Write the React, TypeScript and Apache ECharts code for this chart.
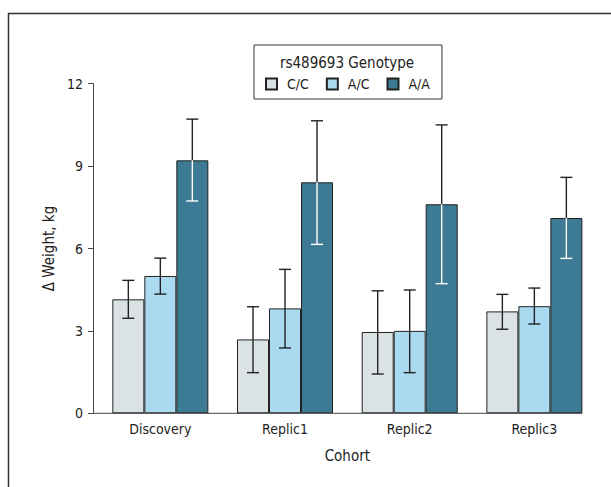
import React, { useEffect, useRef } from "react";
import * as echarts from "echarts";

const categories = ["Discovery", "Replic1", "Replic2", "Replic3"];
const genotypes = ["C/C", "A/C", "A/A"];
const ccMean = [4.15, 2.69, 2.96, 3.71];
const ccLow = [3.46, 1.48, 1.43, 3.06];
const ccHigh = [4.84, 3.88, 4.46, 4.33];
const acMean = [5.0, 3.82, 3.0, 3.9];
const acLow = [4.34, 2.38, 1.48, 3.25];
const acHigh = [5.65, 5.24, 4.49, 4.56];
const aaMean = [9.21, 8.41, 7.61, 7.11];
const aaLow = [7.73, 6.15, 4.72, 5.64];
const aaHigh = [10.71, 10.65, 10.5, 8.59];
const yMin = 0;
const yMax = 12;
const yInterval = 3;

const colors = ["#dbe2e6", "#aadaf0", "#3d7a93"];
const FONT = "'Liberation Sans Narrow', 'DejaVu Sans Condensed', 'Liberation Sans', sans-serif";
const TEXT = "#222";
const GRID_LEFT = 98;
const GRID_TOP = 83.7;
const GRID_W = 498.7;
const GRID_H = 329.6;
const Y_OFFSET = 5;
const CAT_GAP = 0.23;

export default function App() {
  const ref = useRef<HTMLDivElement>(null);
  useEffect(() => {
    if (!ref.current) return;
    const chart = echarts.init(ref.current, undefined, { renderer: "svg" });
    const means = [ccMean, acMean, aaMean];
    const lows = [ccLow, acLow, aaLow];
    const highs = [ccHigh, acHigh, aaHigh];

    const barSeries = genotypes.map((g, k) => ({
      name: g,
      type: "bar",
      data: means[k],
      barGap: "0%",
      barCategoryGap: CAT_GAP * 100 + "%",
      itemStyle: { color: colors[k], borderColor: "#222", borderWidth: 1 },
      z: 2,
    }));

    const errSeries = genotypes.map((g, k) => ({
      name: g + " err",
      type: "custom",
      z: 5,
      data: categories.map((_, i) => [i, lows[k][i], highs[k][i], means[k][i]]),
      encode: { x: 0, y: [1, 2] },
      renderItem: (params: any, api: any) => {
        const cat = api.value(0);
        const low = api.value(1);
        const high = api.value(2);
        const mean = api.value(3);
        const band = api.size([1, 0])[0];
        const bw = (band * (1 - CAT_GAP)) / 3;
        const cx = api.coord([cat, 0])[0] + (k - 1) * bw;
        const yL = api.coord([cat, low])[1];
        const yH = api.coord([cat, high])[1];
        const yM = api.coord([cat, mean])[1];
        const dark = "#222";
        const inner = k === 2 ? "#ffffff" : dark;
        const cap = 6;
        const lw = 1.4;
        return {
          type: "group",
          children: [
            { type: "line", shape: { x1: cx, y1: yH, x2: cx, y2: yM }, style: { stroke: dark, lineWidth: lw } },
            { type: "line", shape: { x1: cx, y1: yM, x2: cx, y2: yL }, style: { stroke: inner, lineWidth: lw } },
            { type: "line", shape: { x1: cx - cap, y1: yH, x2: cx + cap, y2: yH }, style: { stroke: dark, lineWidth: lw } },
            { type: "line", shape: { x1: cx - cap, y1: yL, x2: cx + cap, y2: yL }, style: { stroke: inner, lineWidth: lw } },
          ],
        };
      },
    }));

    const band = GRID_W / categories.length;
    const baseY = GRID_TOP + GRID_H;
    const baseX1 = GRID_LEFT - Y_OFFSET;
    const baseX2 = GRID_LEFT + GRID_W - (band * CAT_GAP) / 2;

    chart.setOption({
      animation: false,
      textStyle: { fontFamily: FONT },
      grid: { left: GRID_LEFT, top: GRID_TOP, width: GRID_W, height: GRID_H },
      legend: {
        data: genotypes,
        left: 254,
        top: 45,
        orient: "horizontal",
        icon: "rect",
        itemWidth: 11,
        itemHeight: 11,
        itemGap: 17,
        padding: [32, 12, 8, 11],
        borderColor: "#333",
        borderWidth: 1,
        backgroundColor: "#fff",
        textStyle: { fontSize: 14, color: TEXT, fontFamily: FONT, padding: [0, 0, 0, 5] },
      },
      xAxis: {
        type: "category",
        data: categories,
        axisLine: { show: false },
        axisTick: { show: false },
        axisLabel: { fontSize: 14, color: TEXT, margin: 9, fontFamily: FONT },
        name: "Cohort",
        nameLocation: "middle",
        nameGap: 35,
        nameTextStyle: { fontSize: 15, color: TEXT, fontFamily: FONT },
      },
      yAxis: {
        type: "value",
        min: yMin,
        max: yMax,
        interval: yInterval,
        offset: Y_OFFSET,
        axisLine: { show: true, lineStyle: { color: "#444", width: 1 } },
        axisTick: { show: true, length: 5, lineStyle: { color: "#444" } },
        splitLine: { show: false },
        axisLabel: { fontSize: 14, color: TEXT, margin: 10, fontFamily: FONT },
        name: "\u0394 Weight, kg",
        nameLocation: "middle",
        nameGap: 37,
        nameTextStyle: { fontSize: 15, color: TEXT, fontFamily: FONT },
      },
      graphic: [
        {
          type: "rect",
          shape: { x: 8.5, y: 13.5, width: 700, height: 600 },
          style: { fill: "none", stroke: "#333", lineWidth: 1.5 },
          silent: true,
        },
        {
          type: "line",
          shape: { x1: baseX1, y1: baseY, x2: baseX2, y2: baseY },
          style: { stroke: "#444", lineWidth: 1 },
          z: 10,
          silent: true,
        },
        {
          type: "text",
          x: 347,
          y: 63,
          z: 100,
          style: {
            text: "rs489693 Genotype",
            fontSize: 15,
            fill: TEXT,
            fontFamily: FONT,
            textAlign: "center",
            textVerticalAlign: "middle",
          },
        },
      ],
      series: [...barSeries, ...errSeries],
    });
    return () => chart.dispose();
  }, []);
  return (
    <div
      ref={ref}
      style={{ position: "absolute", left: 0, top: 0, width: 611, height: 487 }}
    />
  );
}
